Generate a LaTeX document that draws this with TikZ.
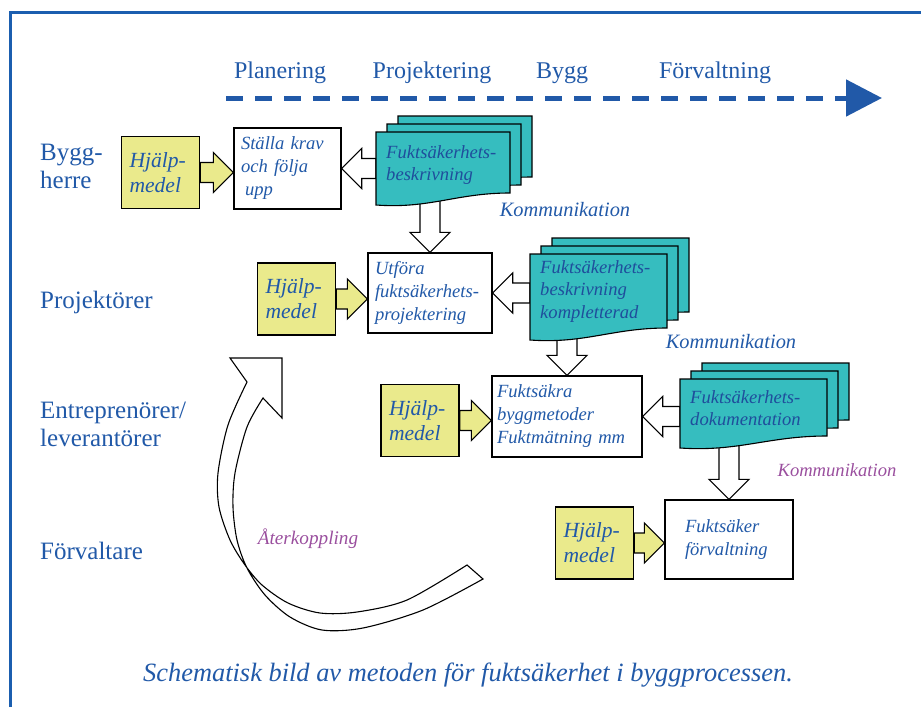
\documentclass[tikz,border=0pt]{standalone}
\usepackage{fontspec}
\setmainfont{Liberation Serif}
\usetikzlibrary{calc,arrows.meta,backgrounds}

\definecolor{frameblue}{HTML}{1B5EAF}
\definecolor{labelblue}{HTML}{2159A8}
\definecolor{docblue}{HTML}{1F4E9C}
\definecolor{docteal}{HTML}{36BDBF}
\definecolor{helpyellow}{HTML}{EAEA8C}
\definecolor{notepurple}{HTML}{9A4F9E}

\newcommand\blockarrow[3][]{%
  \coordinate (ba-s) at (#2);
  \coordinate (ba-t) at (#3);
  \coordinate (ba-b) at ($(ba-t)!20pt!(ba-s)$);
  \draw[blockline,#1] ($(ba-s)!10pt!90:(ba-t)$) -- ($(ba-b)!10pt!-90:(ba-s)$)
    -- ($(ba-b)!20pt!-90:(ba-s)$) -- (ba-t) -- ($(ba-b)!20pt!90:(ba-s)$)
    -- ($(ba-b)!10pt!90:(ba-s)$) -- ($(ba-s)!10pt!-90:(ba-t)$) -- cycle;
}

\begin{document}
\begin{tikzpicture}[x=1pt,y=-1pt]
	\tikzset{
		frame/.style={draw=frameblue, line width=3pt},
		flow/.style={draw=labelblue, line width=5pt, dash pattern=on 17pt off 12pt, -{Triangle[length=36pt,width=36pt]}},
		phase/.style={text=labelblue, font=\fontsize{24}{28}\selectfont},
		actor/.style={text=labelblue, anchor=west, align=left, inner sep=0pt, font=\fontsize{25}{28}\selectfont},
		task/.style={draw, fill=white, line width=1.4pt, align=left, inner xsep=7pt, minimum height=80pt, text=labelblue, font=\itshape\fontsize{18.6}{23}\selectfont},
		help/.style={draw, fill=helpyellow, line width=1.4pt, align=left, inner xsep=8pt, text width=62pt, minimum height=72pt, text=labelblue, font=\itshape\fontsize{21.6}{25}\selectfont},
		doctext/.style={text=docblue, align=left, inner sep=0pt, anchor=north west, font=\itshape\fontsize{18.6}{22.5}\selectfont},
		pageline/.style={draw, fill=docteal, line width=1.1pt},
		blockline/.style={draw, fill=white, line width=1.1pt, line join=miter},
		loopline/.style={draw, fill=white, line width=1.1pt, line join=miter},
		note/.style={text=labelblue, font=\itshape\fontsize{20.4}{24}\selectfont},
		caption/.style={text=labelblue, font=\itshape\fontsize{26.4}{30}\selectfont},
		pics/pages/.style n args={4}{code={
			\foreach \k in {2,1,0}
				\draw[pageline, shift={(11*\k,-8*\k)}] (0,0) -- (#1,0) -- (#1,#2-12)
					.. controls (0.6*#1,#2-12) and (0.4*#1,#2+4) .. (0,#2) -- cycle;
			\node[inner sep=0pt, minimum width=#1pt, minimum height=#2pt, anchor=north west] (-page) at (0,0) {};
			\node[doctext] (-text) at (10,#3) {#4};
		}}
	}
	\useasboundingbox (0,0) rectangle (921,707);
	\draw[frame] (10,707) -- (10,12) -- (921,12);

	% phases
	\coordinate (flowstart) at (226,98);
	\coordinate (flowend) at (882,98);
	\draw[flow] (flowstart) -- (flowend);
	\node[phase] (planering) at (280,73) {Planering};
	\node[phase] (projektering) at (432,73) {Projektering};
	\node[phase] (bygg) at (562,73) {Bygg};
	\node[phase] (forvaltning) at (715,73) {Förvaltning};

	% actors
	\node[actor] (byggherre) at (40,166) {Bygg-\\herre};
	\node[actor] (projektorer) at (40,302) {Projektörer};
	\node[actor] (entreprenorer) at (40,424) {Entreprenörer/\\leverantörer};
	\node[actor] (forvaltare) at (40,551) {Förvaltare};

	% tasks
	\node[task, text width=93pt, minimum height=81pt] (krav) at (287.5,168.5) {Ställa krav\\och följa\\\hspace{4pt}upp};
	\node[task, text width=110pt] (utfora) at (430,293) {Utföra\\fuktsäkerhets-\\projektering};
	\node[task, inner xsep=5pt, text width=140pt, minimum height=81pt] (metod) at (567,416.5) {Fuktsäkra\\byggmetoder\\Fuktmätning mm};
	\node[task, inner xsep=20pt, text width=88pt, minimum height=79pt] (forv) at (729,539.5) {Fuktsäker\\förvaltning};

	\node[help] (help1) at (160.5,172.5) {Hjälp-\\medel};
	\node[help] (help2) at (296.5,299) {Hjälp-\\medel};
	\node[help] (help3) at (420,420.5) {Hjälp-\\medel};
	\node[help] (help4) at (594.5,543) {Hjälp-\\medel};

	% documents
	\pic (doc1) at (376,132) {pages={134}{73}{13}{Fuktsäkerhets-\\beskrivning}};
	\pic (doc2) at (530,254) {pages={137}{86}{6}{Fuktsäkerhets-\\beskrivning\\kompletterad}};
	\pic (doc3) at (680,379) {pages={147}{69}{11}{Fuktsäkerhets-\\dokumentation}};

	\node[note] (komm1) at (565,210) {Kommunikation};
	\node[note] (komm2) at (731,342) {Kommunikation};
	\node[note, text=notepurple, font=\itshape\fontsize{18.6}{22}\selectfont] (komm3) at (837,470) {Kommunikation};

	\begin{scope}[on background layer]
		\blockarrow[fill=helpyellow]{help1.east}{help1.east -| krav.west}
		\blockarrow[fill=helpyellow]{help2.east}{help2.east -| utfora.west}
		\blockarrow[fill=helpyellow]{help3.east}{help3.east -| metod.west}
		\blockarrow[fill=helpyellow]{help4.east}{help4.east -| forv.west}
		\blockarrow{doc1-page.west |- krav.east}{krav.east}
		\blockarrow{doc2-page.west |- utfora.east}{utfora.east}
		\blockarrow{doc3-page.west |- metod.east}{metod.east}
		\blockarrow{doc1-page.center -| utfora.north}{utfora.north}
		\blockarrow{doc2-page.center -| metod.north}{metod.north}
		\blockarrow{doc3-page.center -| forv.north}{forv.north}
	\end{scope}

	% feedback
	\draw[loopline] (247,382) -- (230,358) -- (282,358) -- (282,418) -- (263,398)
		-- plot[smooth] coordinates {(263,398) (247,427) (235,473) (233,507) (237,540) (247,568) (265,595) (290,617) (322,630) (363,628) (423,610) (483,579)}
		-- (467,565)
		-- plot[smooth] coordinates {(467,565) (407,600) (357,612) (320,613) (288,603) (262,585) (245,565) (230,540) (219,507) (218,473) (228,425) (247,382)}
		-- cycle;
	\node[note, text=notepurple, font=\itshape\fontsize{19.2}{22}\selectfont] (aterkoppling) at (308,539) {Återkoppling};

	\node[caption] (caption) at (468,675) {Schematisk bild av metoden för fuktsäkerhet i byggprocessen.};
\end{tikzpicture}
\end{document}
